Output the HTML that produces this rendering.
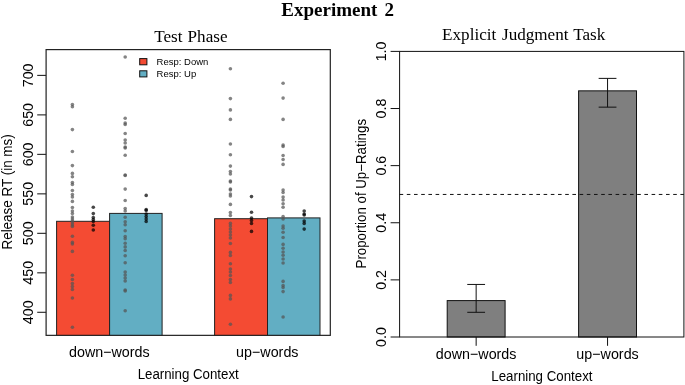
<!DOCTYPE html><html><head><meta charset="utf-8"><style>html,body{margin:0;padding:0;background:#fff;}svg{display:block;will-change:transform;}</style></head><body>
<svg width="685" height="385" viewBox="0 0 685 385" style='font-family:"Liberation Sans", sans-serif'>
<rect x="0" y="0" width="685" height="385" fill="#fff"/>
<text transform="translate(281.30 16.00)" font-size="19.00" style='font-family:"Liberation Serif", serif' font-weight="bold">Experiment</text>
<text transform="translate(384.60 16.00)" font-size="19.00" style='font-family:"Liberation Serif", serif' font-weight="bold">2</text>
<text transform="translate(154.20 41.70)" font-size="17.10" style='font-family:"Liberation Serif", serif'>Test</text>
<text transform="translate(187.60 41.70)" font-size="17.10" style='font-family:"Liberation Serif", serif'>Phase</text>
<rect x="56.60" y="221.30" width="53.00" height="116.05" fill="#F44B33" stroke="#222" stroke-width="1"/>
<rect x="109.60" y="213.40" width="52.50" height="123.95" fill="#62AEC3" stroke="#222" stroke-width="1"/>
<rect x="214.60" y="218.70" width="52.90" height="118.65" fill="#F44B33" stroke="#222" stroke-width="1"/>
<rect x="267.50" y="217.90" width="52.50" height="119.45" fill="#62AEC3" stroke="#222" stroke-width="1"/>
<circle cx="72.4" cy="104.5" r="1.80" fill="rgba(85,85,85,0.72)"/>
<circle cx="72.4" cy="106.8" r="1.80" fill="rgba(85,85,85,0.72)"/>
<circle cx="72.4" cy="129.6" r="1.80" fill="rgba(85,85,85,0.72)"/>
<circle cx="72.4" cy="151.5" r="1.80" fill="rgba(85,85,85,0.72)"/>
<circle cx="72.4" cy="165.6" r="1.80" fill="rgba(85,85,85,0.72)"/>
<circle cx="72.4" cy="173.4" r="1.80" fill="rgba(85,85,85,0.72)"/>
<circle cx="72.4" cy="176.8" r="1.80" fill="rgba(85,85,85,0.72)"/>
<circle cx="72.4" cy="182.5" r="1.80" fill="rgba(85,85,85,0.72)"/>
<circle cx="72.4" cy="184.5" r="1.80" fill="rgba(85,85,85,0.72)"/>
<circle cx="72.4" cy="190.5" r="1.80" fill="rgba(85,85,85,0.72)"/>
<circle cx="72.4" cy="194.5" r="1.80" fill="rgba(85,85,85,0.72)"/>
<circle cx="72.4" cy="197.0" r="1.80" fill="rgba(85,85,85,0.72)"/>
<circle cx="72.4" cy="201.4" r="1.80" fill="rgba(85,85,85,0.72)"/>
<circle cx="72.4" cy="207.5" r="1.80" fill="rgba(85,85,85,0.72)"/>
<circle cx="72.4" cy="211.0" r="1.80" fill="rgba(85,85,85,0.72)"/>
<circle cx="72.4" cy="213.5" r="1.80" fill="rgba(85,85,85,0.72)"/>
<circle cx="72.4" cy="217.0" r="1.80" fill="rgba(85,85,85,0.72)"/>
<circle cx="72.4" cy="219.0" r="1.80" fill="rgba(85,85,85,0.72)"/>
<circle cx="72.4" cy="221.0" r="1.80" fill="rgba(85,85,85,0.72)"/>
<circle cx="72.4" cy="223.0" r="1.80" fill="rgba(85,85,85,0.72)"/>
<circle cx="72.4" cy="225.0" r="1.80" fill="rgba(85,85,85,0.72)"/>
<circle cx="72.4" cy="226.5" r="1.80" fill="rgba(85,85,85,0.72)"/>
<circle cx="72.4" cy="236.2" r="1.80" fill="rgba(85,85,85,0.72)"/>
<circle cx="72.4" cy="242.4" r="1.80" fill="rgba(85,85,85,0.72)"/>
<circle cx="72.4" cy="244.0" r="1.80" fill="rgba(85,85,85,0.72)"/>
<circle cx="72.4" cy="251.4" r="1.80" fill="rgba(85,85,85,0.72)"/>
<circle cx="72.4" cy="275.2" r="1.80" fill="rgba(85,85,85,0.72)"/>
<circle cx="72.4" cy="279.5" r="1.80" fill="rgba(85,85,85,0.72)"/>
<circle cx="72.4" cy="283.5" r="1.80" fill="rgba(85,85,85,0.72)"/>
<circle cx="72.4" cy="286.5" r="1.80" fill="rgba(85,85,85,0.72)"/>
<circle cx="72.4" cy="289.5" r="1.80" fill="rgba(85,85,85,0.72)"/>
<circle cx="72.4" cy="298.0" r="1.80" fill="rgba(85,85,85,0.72)"/>
<circle cx="72.4" cy="327.2" r="1.80" fill="rgba(85,85,85,0.72)"/>
<circle cx="125.2" cy="57.0" r="1.80" fill="rgba(85,85,85,0.72)"/>
<circle cx="125.2" cy="118.2" r="1.80" fill="rgba(85,85,85,0.72)"/>
<circle cx="125.2" cy="123.0" r="1.80" fill="rgba(85,85,85,0.72)"/>
<circle cx="125.2" cy="124.5" r="1.80" fill="rgba(85,85,85,0.72)"/>
<circle cx="125.2" cy="133.5" r="1.80" fill="rgba(85,85,85,0.72)"/>
<circle cx="125.2" cy="140.0" r="1.80" fill="rgba(85,85,85,0.72)"/>
<circle cx="125.2" cy="143.0" r="1.80" fill="rgba(85,85,85,0.72)"/>
<circle cx="125.2" cy="147.0" r="1.80" fill="rgba(85,85,85,0.72)"/>
<circle cx="125.2" cy="148.0" r="1.80" fill="rgba(85,85,85,0.72)"/>
<circle cx="125.2" cy="155.2" r="1.80" fill="rgba(85,85,85,0.72)"/>
<circle cx="125.2" cy="175.0" r="1.80" fill="rgba(85,85,85,0.72)"/>
<circle cx="125.2" cy="175.5" r="1.80" fill="rgba(85,85,85,0.72)"/>
<circle cx="125.2" cy="189.1" r="1.80" fill="rgba(85,85,85,0.72)"/>
<circle cx="125.2" cy="200.5" r="1.80" fill="rgba(85,85,85,0.72)"/>
<circle cx="125.2" cy="208.5" r="1.80" fill="rgba(85,85,85,0.72)"/>
<circle cx="125.2" cy="211.0" r="1.80" fill="rgba(85,85,85,0.72)"/>
<circle cx="125.2" cy="217.2" r="1.80" fill="rgba(85,85,85,0.72)"/>
<circle cx="125.2" cy="221.7" r="1.80" fill="rgba(85,85,85,0.72)"/>
<circle cx="125.2" cy="224.8" r="1.80" fill="rgba(85,85,85,0.72)"/>
<circle cx="125.2" cy="230.7" r="1.80" fill="rgba(85,85,85,0.72)"/>
<circle cx="125.2" cy="236.5" r="1.80" fill="rgba(85,85,85,0.72)"/>
<circle cx="125.2" cy="238.8" r="1.80" fill="rgba(85,85,85,0.72)"/>
<circle cx="125.2" cy="243.2" r="1.80" fill="rgba(85,85,85,0.72)"/>
<circle cx="125.2" cy="246.9" r="1.80" fill="rgba(85,85,85,0.72)"/>
<circle cx="125.2" cy="250.5" r="1.80" fill="rgba(85,85,85,0.72)"/>
<circle cx="125.2" cy="255.7" r="1.80" fill="rgba(85,85,85,0.72)"/>
<circle cx="125.2" cy="262.7" r="1.80" fill="rgba(85,85,85,0.72)"/>
<circle cx="125.2" cy="272.0" r="1.80" fill="rgba(85,85,85,0.72)"/>
<circle cx="125.2" cy="275.0" r="1.80" fill="rgba(85,85,85,0.72)"/>
<circle cx="125.2" cy="278.0" r="1.80" fill="rgba(85,85,85,0.72)"/>
<circle cx="125.2" cy="281.0" r="1.80" fill="rgba(85,85,85,0.72)"/>
<circle cx="125.2" cy="290.0" r="1.80" fill="rgba(85,85,85,0.72)"/>
<circle cx="125.2" cy="291.0" r="1.80" fill="rgba(85,85,85,0.72)"/>
<circle cx="125.2" cy="310.7" r="1.80" fill="rgba(85,85,85,0.72)"/>
<circle cx="230.4" cy="68.7" r="1.80" fill="rgba(85,85,85,0.72)"/>
<circle cx="230.4" cy="98.6" r="1.80" fill="rgba(85,85,85,0.72)"/>
<circle cx="230.4" cy="109.9" r="1.80" fill="rgba(85,85,85,0.72)"/>
<circle cx="230.4" cy="119.4" r="1.80" fill="rgba(85,85,85,0.72)"/>
<circle cx="230.4" cy="144.0" r="1.80" fill="rgba(85,85,85,0.72)"/>
<circle cx="230.4" cy="154.7" r="1.80" fill="rgba(85,85,85,0.72)"/>
<circle cx="230.4" cy="166.1" r="1.80" fill="rgba(85,85,85,0.72)"/>
<circle cx="230.4" cy="171.5" r="1.80" fill="rgba(85,85,85,0.72)"/>
<circle cx="230.4" cy="174.0" r="1.80" fill="rgba(85,85,85,0.72)"/>
<circle cx="230.4" cy="181.0" r="1.80" fill="rgba(85,85,85,0.72)"/>
<circle cx="230.4" cy="182.0" r="1.80" fill="rgba(85,85,85,0.72)"/>
<circle cx="230.4" cy="189.0" r="1.80" fill="rgba(85,85,85,0.72)"/>
<circle cx="230.4" cy="190.0" r="1.80" fill="rgba(85,85,85,0.72)"/>
<circle cx="230.4" cy="194.0" r="1.80" fill="rgba(85,85,85,0.72)"/>
<circle cx="230.4" cy="196.0" r="1.80" fill="rgba(85,85,85,0.72)"/>
<circle cx="230.4" cy="204.4" r="1.80" fill="rgba(85,85,85,0.72)"/>
<circle cx="230.4" cy="212.5" r="1.80" fill="rgba(85,85,85,0.72)"/>
<circle cx="230.4" cy="215.5" r="1.80" fill="rgba(85,85,85,0.72)"/>
<circle cx="230.4" cy="223.4" r="1.80" fill="rgba(85,85,85,0.72)"/>
<circle cx="230.4" cy="226.0" r="1.80" fill="rgba(85,85,85,0.72)"/>
<circle cx="230.4" cy="229.0" r="1.80" fill="rgba(85,85,85,0.72)"/>
<circle cx="230.4" cy="232.0" r="1.80" fill="rgba(85,85,85,0.72)"/>
<circle cx="230.4" cy="235.0" r="1.80" fill="rgba(85,85,85,0.72)"/>
<circle cx="230.4" cy="238.0" r="1.80" fill="rgba(85,85,85,0.72)"/>
<circle cx="230.4" cy="243.5" r="1.80" fill="rgba(85,85,85,0.72)"/>
<circle cx="230.4" cy="252.4" r="1.80" fill="rgba(85,85,85,0.72)"/>
<circle cx="230.4" cy="255.5" r="1.80" fill="rgba(85,85,85,0.72)"/>
<circle cx="230.4" cy="263.8" r="1.80" fill="rgba(85,85,85,0.72)"/>
<circle cx="230.4" cy="269.0" r="1.80" fill="rgba(85,85,85,0.72)"/>
<circle cx="230.4" cy="272.0" r="1.80" fill="rgba(85,85,85,0.72)"/>
<circle cx="230.4" cy="275.5" r="1.80" fill="rgba(85,85,85,0.72)"/>
<circle cx="230.4" cy="279.5" r="1.80" fill="rgba(85,85,85,0.72)"/>
<circle cx="230.4" cy="282.5" r="1.80" fill="rgba(85,85,85,0.72)"/>
<circle cx="230.4" cy="295.4" r="1.80" fill="rgba(85,85,85,0.72)"/>
<circle cx="230.4" cy="298.9" r="1.80" fill="rgba(85,85,85,0.72)"/>
<circle cx="230.4" cy="324.2" r="1.80" fill="rgba(85,85,85,0.72)"/>
<circle cx="283.1" cy="83.2" r="1.80" fill="rgba(85,85,85,0.72)"/>
<circle cx="283.1" cy="98.1" r="1.80" fill="rgba(85,85,85,0.72)"/>
<circle cx="283.1" cy="119.4" r="1.80" fill="rgba(85,85,85,0.72)"/>
<circle cx="283.1" cy="145.0" r="1.80" fill="rgba(85,85,85,0.72)"/>
<circle cx="283.1" cy="146.5" r="1.80" fill="rgba(85,85,85,0.72)"/>
<circle cx="283.1" cy="155.5" r="1.80" fill="rgba(85,85,85,0.72)"/>
<circle cx="283.1" cy="159.5" r="1.80" fill="rgba(85,85,85,0.72)"/>
<circle cx="283.1" cy="164.4" r="1.80" fill="rgba(85,85,85,0.72)"/>
<circle cx="283.1" cy="190.0" r="1.80" fill="rgba(85,85,85,0.72)"/>
<circle cx="283.1" cy="192.5" r="1.80" fill="rgba(85,85,85,0.72)"/>
<circle cx="283.1" cy="197.1" r="1.80" fill="rgba(85,85,85,0.72)"/>
<circle cx="283.1" cy="200.0" r="1.80" fill="rgba(85,85,85,0.72)"/>
<circle cx="283.1" cy="203.7" r="1.80" fill="rgba(85,85,85,0.72)"/>
<circle cx="283.1" cy="207.3" r="1.80" fill="rgba(85,85,85,0.72)"/>
<circle cx="283.1" cy="216.5" r="1.80" fill="rgba(85,85,85,0.72)"/>
<circle cx="283.1" cy="219.0" r="1.80" fill="rgba(85,85,85,0.72)"/>
<circle cx="283.1" cy="226.0" r="1.80" fill="rgba(85,85,85,0.72)"/>
<circle cx="283.1" cy="228.3" r="1.80" fill="rgba(85,85,85,0.72)"/>
<circle cx="283.1" cy="232.2" r="1.80" fill="rgba(85,85,85,0.72)"/>
<circle cx="283.1" cy="237.5" r="1.80" fill="rgba(85,85,85,0.72)"/>
<circle cx="283.1" cy="244.4" r="1.80" fill="rgba(85,85,85,0.72)"/>
<circle cx="283.1" cy="248.2" r="1.80" fill="rgba(85,85,85,0.72)"/>
<circle cx="283.1" cy="252.0" r="1.80" fill="rgba(85,85,85,0.72)"/>
<circle cx="283.1" cy="255.3" r="1.80" fill="rgba(85,85,85,0.72)"/>
<circle cx="283.1" cy="259.0" r="1.80" fill="rgba(85,85,85,0.72)"/>
<circle cx="283.1" cy="263.0" r="1.80" fill="rgba(85,85,85,0.72)"/>
<circle cx="283.1" cy="281.4" r="1.80" fill="rgba(85,85,85,0.72)"/>
<circle cx="283.1" cy="285.6" r="1.80" fill="rgba(85,85,85,0.72)"/>
<circle cx="283.1" cy="287.5" r="1.80" fill="rgba(85,85,85,0.72)"/>
<circle cx="283.1" cy="291.6" r="1.80" fill="rgba(85,85,85,0.72)"/>
<circle cx="283.1" cy="317.0" r="1.80" fill="rgba(85,85,85,0.72)"/>
<circle cx="93.3" cy="207.3" r="1.80" fill="rgba(0,0,0,0.72)"/>
<circle cx="93.3" cy="213.6" r="1.80" fill="rgba(0,0,0,0.72)"/>
<circle cx="93.3" cy="217.5" r="1.80" fill="rgba(0,0,0,0.72)"/>
<circle cx="93.3" cy="219.5" r="1.80" fill="rgba(0,0,0,0.72)"/>
<circle cx="93.3" cy="221.5" r="1.80" fill="rgba(0,0,0,0.72)"/>
<circle cx="93.3" cy="225.3" r="1.80" fill="rgba(0,0,0,0.72)"/>
<circle cx="93.3" cy="230.0" r="1.80" fill="rgba(0,0,0,0.72)"/>
<circle cx="146.2" cy="195.4" r="1.80" fill="rgba(0,0,0,0.72)"/>
<circle cx="146.2" cy="209.5" r="1.80" fill="rgba(0,0,0,0.72)"/>
<circle cx="146.2" cy="210.5" r="1.80" fill="rgba(0,0,0,0.72)"/>
<circle cx="146.2" cy="214.0" r="1.80" fill="rgba(0,0,0,0.72)"/>
<circle cx="146.2" cy="216.5" r="1.80" fill="rgba(0,0,0,0.72)"/>
<circle cx="146.2" cy="219.0" r="1.80" fill="rgba(0,0,0,0.72)"/>
<circle cx="146.2" cy="221.5" r="1.80" fill="rgba(0,0,0,0.72)"/>
<circle cx="251.5" cy="196.6" r="1.80" fill="rgba(0,0,0,0.72)"/>
<circle cx="251.5" cy="212.2" r="1.80" fill="rgba(0,0,0,0.72)"/>
<circle cx="251.5" cy="218.0" r="1.80" fill="rgba(0,0,0,0.72)"/>
<circle cx="251.5" cy="220.5" r="1.80" fill="rgba(0,0,0,0.72)"/>
<circle cx="251.5" cy="223.5" r="1.80" fill="rgba(0,0,0,0.72)"/>
<circle cx="251.5" cy="231.4" r="1.80" fill="rgba(0,0,0,0.72)"/>
<circle cx="304.2" cy="211.0" r="1.80" fill="rgba(0,0,0,0.72)"/>
<circle cx="304.2" cy="214.0" r="1.80" fill="rgba(0,0,0,0.72)"/>
<circle cx="304.2" cy="215.0" r="1.80" fill="rgba(0,0,0,0.72)"/>
<circle cx="304.2" cy="221.0" r="1.80" fill="rgba(0,0,0,0.72)"/>
<circle cx="304.2" cy="223.4" r="1.80" fill="rgba(0,0,0,0.72)"/>
<circle cx="304.2" cy="229.1" r="1.80" fill="rgba(0,0,0,0.72)"/>
<rect x="40" y="335.85" width="300" height="10" fill="#fff"/>
<rect x="46.10" y="49.60" width="284.20" height="285.75" fill="none" stroke="#222" stroke-width="1.2"/>
<line x1="37.2" y1="312.30" x2="46.10" y2="312.30" stroke="#222" stroke-width="1.1"/>
<text transform="translate(32.90 312.30) rotate(-90) scale(1 1.040)" font-size="14.30" text-anchor="middle">400</text>
<line x1="37.2" y1="272.82" x2="46.10" y2="272.82" stroke="#222" stroke-width="1.1"/>
<text transform="translate(32.90 272.82) rotate(-90) scale(1 1.040)" font-size="14.30" text-anchor="middle">450</text>
<line x1="37.2" y1="233.33" x2="46.10" y2="233.33" stroke="#222" stroke-width="1.1"/>
<text transform="translate(32.90 233.33) rotate(-90) scale(1 1.040)" font-size="14.30" text-anchor="middle">500</text>
<line x1="37.2" y1="193.85" x2="46.10" y2="193.85" stroke="#222" stroke-width="1.1"/>
<text transform="translate(32.90 193.85) rotate(-90) scale(1 1.040)" font-size="14.30" text-anchor="middle">550</text>
<line x1="37.2" y1="154.37" x2="46.10" y2="154.37" stroke="#222" stroke-width="1.1"/>
<text transform="translate(32.90 154.37) rotate(-90) scale(1 1.040)" font-size="14.30" text-anchor="middle">600</text>
<line x1="37.2" y1="114.88" x2="46.10" y2="114.88" stroke="#222" stroke-width="1.1"/>
<text transform="translate(32.90 114.88) rotate(-90) scale(1 1.040)" font-size="14.30" text-anchor="middle">650</text>
<line x1="37.2" y1="75.40" x2="46.10" y2="75.40" stroke="#222" stroke-width="1.1"/>
<text transform="translate(32.90 75.40) rotate(-90) scale(1 1.040)" font-size="14.30" text-anchor="middle">700</text>
<text transform="translate(11.80 191.90) rotate(-90) scale(1 1.040)" font-size="13.45" text-anchor="middle">Release RT (in ms)</text>
<text transform="translate(109.30 356.90) scale(1 1.040)" font-size="14.30" text-anchor="middle">down−words</text>
<text transform="translate(267.30 356.90) scale(1 1.040)" font-size="14.30" text-anchor="middle">up−words</text>
<text transform="translate(188.20 378.90) scale(1 1.040)" font-size="13.30" text-anchor="middle">Learning Context</text>
<rect x="139.7" y="58.6" width="7.2" height="6.2" fill="#F44B33" stroke="#111" stroke-width="1"/>
<rect x="139.7" y="70.8" width="7.2" height="6.1" fill="#62AEC3" stroke="#111" stroke-width="1"/>
<text transform="translate(156.60 65.00) scale(1 1.040)" font-size="9.50">Resp: Down</text>
<text transform="translate(156.60 77.00) scale(1 1.040)" font-size="9.50">Resp: Up</text>
<text transform="translate(442.10 40.00)" font-size="17.10" style='font-family:"Liberation Serif", serif'>Explicit</text>
<text transform="translate(502.00 40.00)" font-size="17.10" style='font-family:"Liberation Serif", serif'>Judgment</text>
<text transform="translate(573.20 40.00)" font-size="17.10" style='font-family:"Liberation Serif", serif'>Task</text>
<rect x="447.20" y="300.59" width="57.90" height="36.41" fill="#7f7f7f" stroke="#111" stroke-width="1"/>
<line x1="476.15" y1="284.45" x2="476.15" y2="312.30" stroke="#111" stroke-width="1"/>
<line x1="467.25" y1="284.45" x2="485.05" y2="284.45" stroke="#111" stroke-width="1"/>
<line x1="467.25" y1="312.30" x2="485.05" y2="312.30" stroke="#111" stroke-width="1"/>
<line x1="476.15" y1="337.00" x2="476.15" y2="345.80" stroke="#111" stroke-width="1"/>
<rect x="578.60" y="90.84" width="57.90" height="246.16" fill="#7f7f7f" stroke="#111" stroke-width="1"/>
<line x1="607.55" y1="78.39" x2="607.55" y2="107.15" stroke="#111" stroke-width="1"/>
<line x1="598.65" y1="78.39" x2="616.45" y2="78.39" stroke="#111" stroke-width="1"/>
<line x1="598.65" y1="107.15" x2="616.45" y2="107.15" stroke="#111" stroke-width="1"/>
<line x1="607.55" y1="337.00" x2="607.55" y2="345.80" stroke="#111" stroke-width="1"/>
<line x1="399.60" y1="194.45" x2="683.90" y2="194.45" stroke="#111" stroke-width="1" stroke-dasharray="3.6 3.6"/>
<rect x="399.60" y="51.40" width="284.30" height="285.60" fill="none" stroke="#111" stroke-width="1"/>
<line x1="390.6" y1="337.00" x2="399.60" y2="337.00" stroke="#111" stroke-width="1"/>
<text transform="translate(386.20 337.00) rotate(-90) scale(1 1.040)" font-size="14.30" text-anchor="middle">0.0</text>
<line x1="390.6" y1="279.88" x2="399.60" y2="279.88" stroke="#111" stroke-width="1"/>
<text transform="translate(386.20 279.88) rotate(-90) scale(1 1.040)" font-size="14.30" text-anchor="middle">0.2</text>
<line x1="390.6" y1="222.76" x2="399.60" y2="222.76" stroke="#111" stroke-width="1"/>
<text transform="translate(386.20 222.76) rotate(-90) scale(1 1.040)" font-size="14.30" text-anchor="middle">0.4</text>
<line x1="390.6" y1="165.64" x2="399.60" y2="165.64" stroke="#111" stroke-width="1"/>
<text transform="translate(386.20 165.64) rotate(-90) scale(1 1.040)" font-size="14.30" text-anchor="middle">0.6</text>
<line x1="390.6" y1="108.52" x2="399.60" y2="108.52" stroke="#111" stroke-width="1"/>
<text transform="translate(386.20 108.52) rotate(-90) scale(1 1.040)" font-size="14.30" text-anchor="middle">0.8</text>
<line x1="390.6" y1="51.40" x2="399.60" y2="51.40" stroke="#111" stroke-width="1"/>
<text transform="translate(386.20 51.40) rotate(-90) scale(1 1.040)" font-size="14.30" text-anchor="middle">1.0</text>
<text transform="translate(366.30 193.70) rotate(-90) scale(1 1.040)" font-size="13.30" text-anchor="middle">Proportion of Up−Ratings</text>
<text transform="translate(476.15 358.70) scale(1 1.040)" font-size="14.30" text-anchor="middle">down−words</text>
<text transform="translate(607.55 358.70) scale(1 1.040)" font-size="14.30" text-anchor="middle">up−words</text>
<text transform="translate(541.90 380.60) scale(1 1.040)" font-size="13.30" text-anchor="middle">Learning Context</text>
</svg></body></html>
